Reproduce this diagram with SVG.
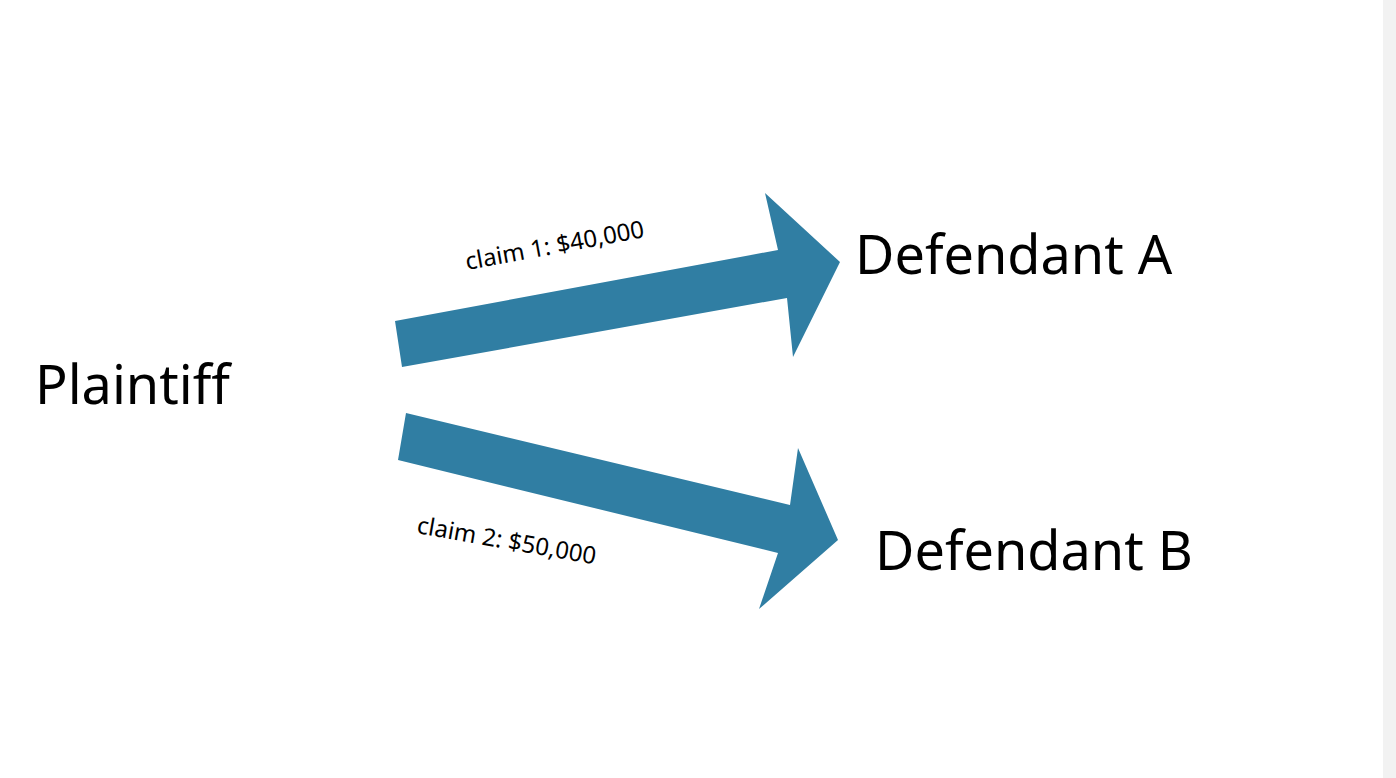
<svg xmlns="http://www.w3.org/2000/svg" width="1396" height="778" viewBox="0 0 1396 778">
<style>
.arrow{fill:#307ea3}
.big{font-family:"Noto Sans","Open Sans",sans-serif;font-size:54px;fill:#000}
.lbl{font-family:"Noto Sans","Open Sans",sans-serif;font-size:24px;fill:#000}
</style>
<rect width="1396" height="778" fill="#fff"/>
<rect x="1383" y="0" width="13" height="778" fill="#f2f2f2"/>
<g id="plaintiff"><text class="big" x="35" y="404">Plaintiff</text></g>
<g id="defendantA"><text class="big" x="855" y="274">Defendant A</text></g>
<g id="defendantB"><text class="big" x="875" y="570">Defendant B</text></g>
<g id="connectors">
<polygon class="arrow" points="395,321 402,367 787,298 793,357 840,262 765,193 778,250"/>
<polygon class="arrow" points="406,413 398,460 778,553 759,609 838,540 798,448 790,505"/>
<text class="lbl" transform="translate(467,270) rotate(-10.5)">claim 1: $40,000</text>
<text class="lbl" transform="translate(416,533) rotate(10)">claim 2: $50,000</text>
</g>
</svg>
